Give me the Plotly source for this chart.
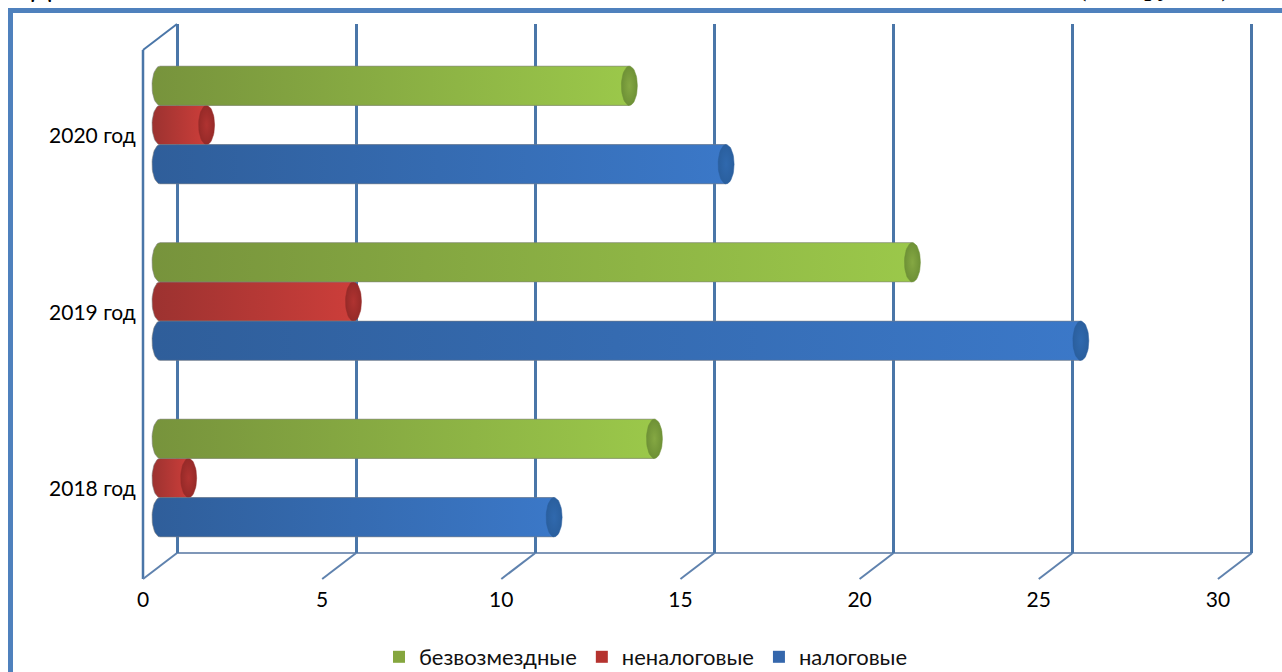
import numpy as np
import plotly.graph_objects as go

# ---- data ----
categories = ["2018 год", "2019 год", "2020 год"]
nalogovye = [11.0, 25.7, 15.8]
nenalogovye = [0.8, 5.4, 1.3]
bezvozmezdnye = [13.8, 21.0, 13.1]
axis_ticks = [0, 5, 10, 15, 20, 25, 30]

# ---- page geometry ----
W, H = 1282, 672
PH = 700             # figure runs below the window so the legend pushes no margin
K = 35.83            # pixels per axis unit
X_FRONT, X_BAR, X_BACK = 143, 160, 177
Y_TOP, Y_BACK, Y_FRONT, Y_LEFT_TOP = 24, 553, 579, 50
PITCH = 176.5
Y_BAR0, Y_LABEL0 = 478, 489
GAP = 0.333
RX = 8
GRID = "#4A76A8"
FONT = "Lato"
TEXT = "#000000"


def px(x):
    return x / W


def py(y):
    return 1 - y / PH


def xrange_for(x0):
    return [-x0 / K, (W - x0) / K]


def yrange_for(y0):
    return [(y0 - PH) / PITCH, y0 / PITCH]


series = [
    ("налоговые", nalogovye, "#3567AC", "#2F5E9A", "#3B78C8", "#2A5F9E", "#3069AE"),
    ("неналоговые", nenalogovye, "#B5332F", "#9C3230", "#CC3E3A", "#962A28", "#B03331"),
    ("безвозмездные", bezvozmezdnye, "#85A63E", "#77933C", "#9BC84A", "#6E9136", "#85A843"),
]

fig = go.Figure()
bar_w = (1 - GAP) / 3
RY = bar_w / 2
RXV = RX / K
ys = np.arange(len(categories))

# empty traces so that the label axes and the grid axes get drawn
fig.add_trace(go.Scatter(x=[None], y=[None], xaxis="x", yaxis="y", showlegend=False, hoverinfo="skip"))
fig.add_trace(go.Scatter(x=[None], y=[None], xaxis="x2", yaxis="y2", showlegend=False, hoverinfo="skip"))

# real bars (they also feed the legend)
for name, vals, mid, *_ in series:
    fig.add_trace(go.Bar(
        x=vals, y=ys, name=name, orientation="h", xaxis="x3", yaxis="y3",
        marker=dict(color=mid, line=dict(width=0)),
    ))

# cylinder shading laid over the bars, derived from the same values
t_left = np.linspace(np.pi / 2, 3 * np.pi / 2, 25)
t_full = np.linspace(0, 2 * np.pi, 49)
draw_order = [1, 0, 2]
for j in draw_order:
    name, vals, mid, dark, light, cap_edge, cap_mid = series[j]
    off = (j - 1) * bar_w
    for i, v in enumerate(vals):
        yc = i + off
        bx = list(RXV * np.cos(t_left)) + [v, v]
        by = list(yc + RY * np.sin(t_left)) + [yc - RY, yc + RY]
        bx.append(bx[0])
        by.append(by[0])
        fig.add_trace(go.Scatter(
            x=bx, y=by, mode="lines", fill="toself", xaxis="x3", yaxis="y3",
            line=dict(color="rgba(125,125,125,0.55)", width=1),
            fillgradient=dict(type="horizontal",
                              colorscale=[[0, dark], [1, light]]),
            showlegend=False, hoverinfo="skip",
        ))
        fig.add_trace(go.Scatter(
            x=v + RXV * np.cos(t_full), y=yc + RY * np.sin(t_full),
            mode="lines", fill="toself", xaxis="x3", yaxis="y3",
            line=dict(color=cap_edge, width=0.5),
            fillgradient=dict(type="radial",
                              colorscale=[[0, cap_mid], [1, cap_edge]]),
            showlegend=False, hoverinfo="skip",
        ))

shapes = []


def seg(x0, y0, x1, y1, color=GRID, width=2):
    shapes.append(dict(type="line", xref="paper", yref="paper", layer="below",
                       x0=px(x0), y0=py(y0), x1=px(x1), y1=py(y1),
                       line=dict(color=color, width=width)))


seg(X_FRONT, Y_LEFT_TOP, X_FRONT, Y_FRONT, width=2.5)
seg(X_FRONT, Y_LEFT_TOP, X_BACK, Y_TOP)
seg(X_BACK, Y_BACK, X_BACK + K * axis_ticks[-1], Y_BACK, color="#7F97B8")
for t in axis_ticks:
    xb = X_BACK + K * t
    seg(xb, Y_BACK, xb - 34, Y_FRONT, color="#5F82AE")

# outer frame of the page
shapes.append(dict(type="path", xref="paper", yref="paper", layer="below",
                   path=f"M {px(10.5)},{py(PH)} L {px(10.5)},{py(10.5)} L 1,{py(10.5)}",
                   line=dict(color="#4F81BD", width=5)))

fig.update_layout(
    width=W, height=PH, margin=dict(l=0, r=0, t=0, b=0, pad=0),
    autosize=False,
    paper_bgcolor="white", plot_bgcolor="rgba(0,0,0,0)",
    font=dict(family=FONT, size=21, color=TEXT),
    barmode="group", bargap=GAP, bargroupgap=0,
    shapes=shapes,
    legend=dict(orientation="h", traceorder="reversed",
                x=px(646), xanchor="center", y=py(657), yanchor="middle",
                font=dict(family=FONT, size=22, color="#111111"),
                bgcolor="rgba(0,0,0,0)"),
    # front axis: value tick labels
    xaxis=dict(domain=[0, 1], range=xrange_for(X_FRONT), anchor="free",
               position=py(Y_FRONT), tickvals=axis_ticks, showgrid=False,
               zeroline=False, showline=False, ticks="outside", ticklen=2,
               tickcolor="rgba(0,0,0,0)", tickfont=dict(family=FONT, size=21),
               fixedrange=True),
    # left side: category labels
    yaxis=dict(domain=[0, 1], range=yrange_for(Y_LABEL0), anchor="free",
               position=px(X_FRONT), tickvals=list(ys), ticktext=categories,
               showgrid=False, zeroline=False, showline=False, ticks="outside",
               ticklen=3, tickcolor="rgba(0,0,0,0)",
               tickfont=dict(family=FONT, size=21), fixedrange=True),
    # back wall: grid
    xaxis2=dict(domain=[0, 1], range=xrange_for(X_BACK), anchor="y2",
                tickvals=axis_ticks, showticklabels=False, ticks="",
                showgrid=True, gridcolor=GRID, gridwidth=2.5, zeroline=False,
                showline=False, fixedrange=True),
    yaxis2=dict(domain=[py(Y_BACK), py(Y_TOP)], range=[0, 1], anchor="x2",
                showticklabels=False, ticks="", showgrid=False, zeroline=False,
                showline=False, fixedrange=True),
    # bars
    xaxis3=dict(domain=[0, 1], range=xrange_for(X_BAR), anchor="y3",
                visible=False, fixedrange=True),
    yaxis3=dict(domain=[0, 1], range=yrange_for(Y_BAR0), anchor="x3",
                visible=False, fixedrange=True),
    annotations=[
        dict(text="<b>Д</b>", xref="paper", yref="paper", x=px(41), y=py(4),
             xanchor="center", yanchor="bottom", showarrow=False,
             font=dict(family="Liberation Serif", size=30, color="#000000")),
        dict(text="<b>(млн. рублей)</b>", xref="paper", yref="paper", x=px(1154), y=py(4),
             xanchor="center", yanchor="bottom", showarrow=False,
             font=dict(family="Liberation Serif", size=25, color="#000000")),
    ],
)

fig.write_html("out.html", config=dict(displayModeBar=False),
               post_script="document.documentElement.style.overflow='hidden';document.body.style.margin='0';document.body.style.height='672px';document.body.style.overflow='hidden';")
